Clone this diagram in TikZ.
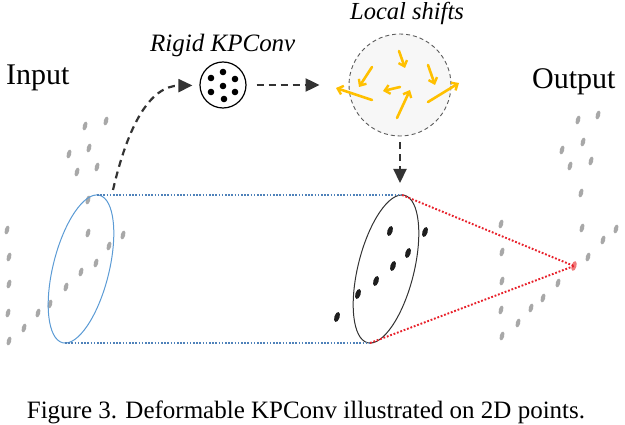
\documentclass[tikz,border=0pt]{standalone}
\usepackage{fontspec}
\setmainfont{Liberation Serif}
\usetikzlibrary{arrows.meta,shapes.geometric}
\definecolor{dotgrey}{HTML}{A8A8A8}
\definecolor{dotblack}{HTML}{1E1E1E}
\definecolor{linkblue}{HTML}{4F82BA}
\definecolor{ellblue}{HTML}{5B9BD5}
\definecolor{linkred}{HTML}{E8202A}
\definecolor{apexred}{HTML}{F07A7A}
\definecolor{shiftgold}{HTML}{FFC000}
\definecolor{arrowdark}{HTML}{333333}
\begin{document}
\begin{tikzpicture}[x=1pt,y=-1pt,
  dasharrow/.style={arrowdark, line width=2.2pt, dash pattern=on 7pt off 5pt,
    -{Triangle[length=14pt,width=13pt]}},
  bluedots/.style={linkblue, line width=1.8pt, dash pattern=on 1.6pt off 1.6pt},
  reddots/.style={linkred, line width=1.9pt, dash pattern=on 1.8pt off 1.8pt},
  shiftarrow/.style={shiftgold, line width=2.6pt, line cap=round,
    -{Straight Barb[length=5pt,width=9pt,line width=2.4pt]}},
  label/.style={inner sep=0pt, anchor=base west},
  cylend/.style={ellipse, inner sep=0pt, minimum width=56pt, minimum height=152pt, rotate=-14}
]
\useasboundingbox[fill=white] (0,0) rectangle (625,425);

% grey input / output points
\foreach \x/\y in {85/126,106/121,89/148,69/154,97/167,77/172,88/200,7/230,88/233,123/235,
  109/246,9/257,96/263,81/272,9/284,66/287,50/304,8/313,38/313,24/328,9/341,
  578/120,598/115,583/142,562/150,570/166,591/161,581/193,501/224,582/228,616/229,
  603/240,502/252,588/257,502/281,558/283,501/310,531/308,543/298,518/323,502/336}
  \fill[dotgrey, shift={(\x,\y)}, rotate=-15] (0,0) ellipse [x radius=2.2, y radius=4.6];

% cylinder ends
\node[cylend, draw=ellblue, line width=1pt] (inell) at (81,269) {};
\coordinate (inTop) at (97,195);
\coordinate (inBot) at (65,343);
\node[cylend, draw=arrowdark, line width=1pt] (outell) at (386,269) {};
\coordinate (outTop) at (402,195);
\coordinate (outBot) at (370,343);

% black deformed points
\foreach \x/\y in {390/231,425/232,408/253,393/266,376/281,358/294,337/317}
  \fill[dotblack, shift={(\x,\y)}, rotate=-18] (0,0) ellipse [x radius=2.6, y radius=5.2];

% cylinder sides and cone
\draw[bluedots] (inTop) -- (outTop);
\draw[bluedots] (inBot) -- (outBot);
\node[fill=apexred, ellipse, inner sep=0pt, minimum width=5pt, minimum height=10pt, rotate=-15] (apex) at (574,266) {};
\draw[reddots] (outTop) -- (apex.center);
\draw[reddots] (outBot) -- (apex.center);

% labels
\node[label, font=\fontsize{30}{36}\selectfont] (input) at (6,85) {Input};
\node[label, font=\fontsize{30}{36}\selectfont] (output) at (532,89) {Output};
\node[label, font=\fontsize{25}{30}\selectfont\itshape] (rigidlabel) at (150,52) {Rigid KPConv};
\node[label, font=\fontsize{24.5}{29}\selectfont\itshape] (shiftlabel) at (350,19.5) {Local shifts};
\node[inner sep=0pt, anchor=base, font=\fontsize{25}{30}\selectfont] (caption) at (306,418)
  {Figure 3. Deformable KPConv illustrated on 2D points.};

% rigid kernel
\node[circle, draw=black, fill=white, line width=1.2pt, minimum size=46pt, inner sep=0pt] (rigid) at (223,85) {};
\foreach \x/\y in {223/72,211/78,235/79,223/86,211/92,235/92,224/99}
  \fill[black] (\x,\y) circle (3.3);

% local shifts kernel
\node[circle, draw=arrowdark!80, fill=black!3, line width=0.9pt, dash pattern=on 4pt off 3pt,
  minimum size=102pt, inner sep=0pt] (shifts) at (400,85) {};
\draw[shiftarrow] (399,51) -- (405,68);
\draw[shiftarrow] (372,67) -- (359,87);
\draw[shiftarrow] (428,65) -- (435,85);
\draw[shiftarrow] (372,100) -- (336,88);
\draw[shiftarrow] (400,87) -- (383,91);
\draw[shiftarrow] (397,118) -- (410,90);
\draw[shiftarrow] (428,102) -- (459,83);

% connectors
\coordinate (curveStart) at (113,190);
\coordinate (downTip) at (400,183);
\draw[dasharrow, shorten >=7pt] (curveStart) .. controls (128,125) and (150,86) .. (rigid);
\draw[dasharrow, shorten <=10pt, shorten >=29pt] (rigid) -- (shifts);
\draw[dasharrow, shorten <=6pt] (shifts) -- (downTip);
\end{tikzpicture}
\end{document}
